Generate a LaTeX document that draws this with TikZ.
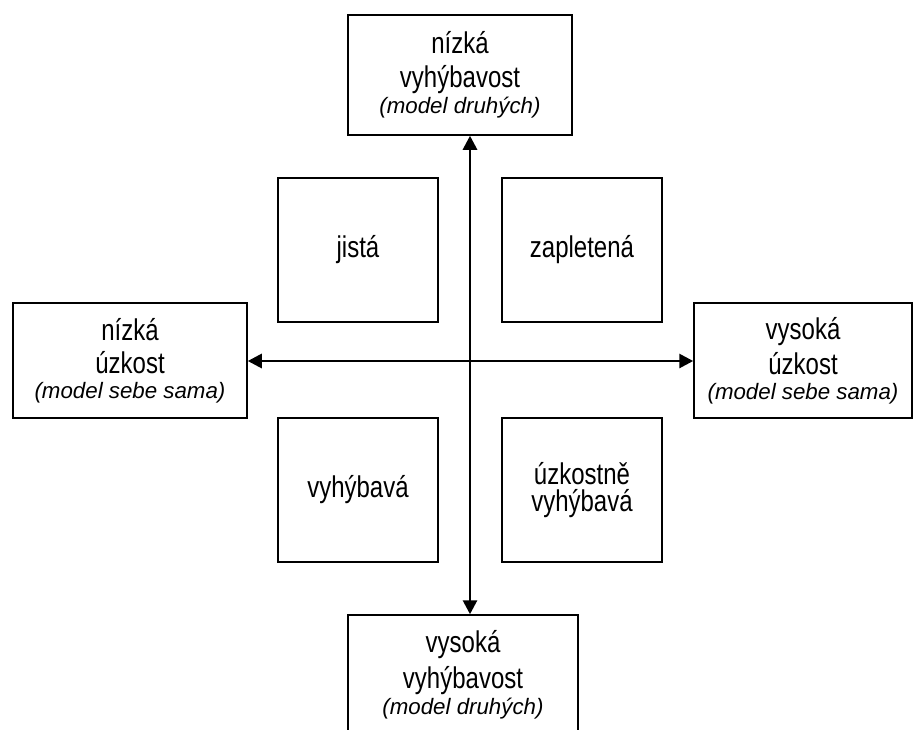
\documentclass[tikz,border=0pt]{standalone}
\usepackage{fontspec}
\setmainfont{Liberation Sans}[FakeStretch=0.8]
\newfontfamily\subfont{Liberation Sans}
\usetikzlibrary{arrows.meta}
\newcommand{\subline}[1]{{\subfont\itshape\fontsize{22.3}{26}\selectfont #1}}
\begin{document}
\begin{tikzpicture}[x=1pt,y=-1pt,
  box/.style={draw=black, line width=1.5pt, inner sep=0pt, align=center,
    font=\fontsize{30}{27.3}\selectfont},
  axis/.style={line width=2.8pt,
    {Triangle[length=14pt,width=14pt]}-{Triangle[length=14pt,width=14pt]}}]
\clip (0,0) rectangle (913,729);
\node[box, minimum width=224pt, minimum height=120pt] (top) at (460,75)
  {nízká\\[6.7pt]vyhýbavost\\[-1.3pt]\subline{(model druhých)}};
\node[box, minimum width=230pt, minimum height=120pt] (bot) at (463,675)
  {vysoká\\[6.7pt]vyhýbavost\\[-1.3pt]\subline{(model druhých)}};
\node[box, minimum width=234pt, minimum height=115pt] (lft) at (130,360.5)
  {nízká\\[5.7pt]úzkost\\[-2.3pt]\subline{(model sebe sama)}};
\node[box, minimum width=218pt, minimum height=115pt] (rgt) at (803,360.5)
  {vysoká\\[5.7pt]úzkost\\[-2.3pt]\subline{(model sebe sama)}};
\node[box, minimum width=160pt, minimum height=144pt] (jista) at (358,250) {jistá};
\node[box, minimum width=160pt, minimum height=144pt] (zapl) at (582,250) {zapletená};
\node[box, minimum width=160pt, minimum height=144pt] (vyhy) at (358,490) {vyhýbavá};
\node[box, minimum width=160pt, minimum height=144pt] (uzko) at (582,490) {úzkostně\\vyhýbavá};
\coordinate (c) at (470,361);
\draw[axis] (top.south -| c) -- (bot.north -| c);
\draw[axis] (lft.east |- c) -- (rgt.west |- c);
\end{tikzpicture}
\end{document}
